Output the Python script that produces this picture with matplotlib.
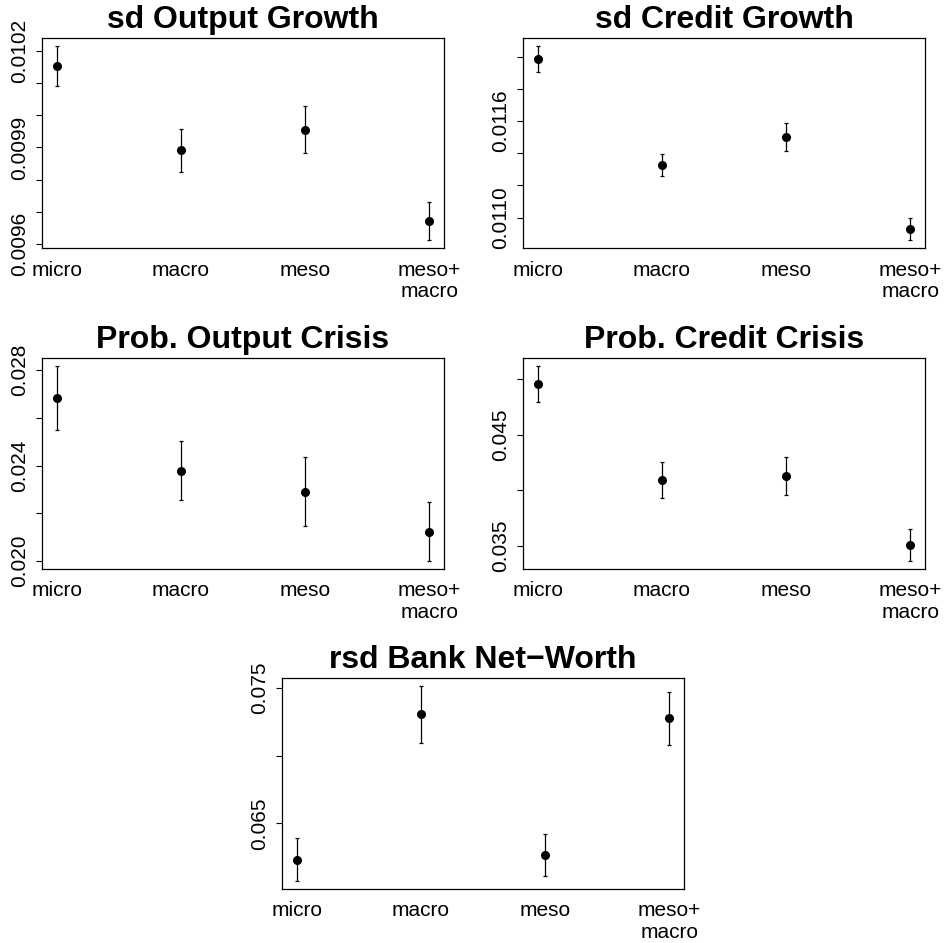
import numpy as np
import matplotlib.pyplot as plt

plt.rcParams['font.family'] = ['Liberation Sans', 'DejaVu Sans']

scenarios = ["micro", "macro", "meso", "meso+\nmacro"]

# mean and half-width of the interval for each scenario
sd_output_mean = [0.010154, 0.009891, 0.009956, 0.009671]
sd_output_err = [0.000063, 0.000067, 0.000072, 0.000060]

sd_credit_mean = [0.011988, 0.011326, 0.011499, 0.010930]
sd_credit_err = [0.000080, 0.000070, 0.000087, 0.000070]

prob_output_mean = [0.02684, 0.02379, 0.02291, 0.02123]
prob_output_err = [0.00134, 0.00123, 0.00143, 0.00124]

prob_credit_mean = [0.04952, 0.04095, 0.04128, 0.03509]
prob_credit_err = [0.00164, 0.00160, 0.00173, 0.00143]

rsd_bank_mean = [0.06232, 0.07305, 0.06266, 0.07276]
rsd_bank_err = [0.00160, 0.00212, 0.00155, 0.00197]

# y ticks and which of them get a label
sd_output_ticks = [0.0096, 0.0097, 0.0098, 0.0099, 0.0100, 0.0101, 0.0102]
sd_output_labels = ["0.0096", "", "", "0.0099", "", "", "0.0102"]
sd_credit_ticks = [0.0110, 0.0112, 0.0114, 0.0116, 0.0118, 0.0120]
sd_credit_labels = ["0.0110", "", "", "0.0116", "", ""]
prob_output_ticks = [0.020, 0.022, 0.024, 0.026, 0.028]
prob_output_labels = ["0.020", "", "0.024", "", "0.028"]
prob_credit_ticks = [0.035, 0.040, 0.045, 0.050]
prob_credit_labels = ["0.035", "", "0.045", ""]
rsd_bank_ticks = [0.065, 0.070, 0.075]
rsd_bank_labels = ["0.065", "", "0.075"]

W, H = 946, 943
fig = plt.figure(figsize=(W / 100, H / 100), dpi=100)


def add_panel(px_left, px_top, px_right, px_bottom):
    return fig.add_axes([px_left / W, 1 - px_bottom / H,
                         (px_right - px_left) / W, (px_bottom - px_top) / H])


def ci_plot(ax, title, mean, err, ticks, labels):
    mean = np.array(mean)
    err = np.array(err)
    x = np.arange(1, len(mean) + 1)
    ax.errorbar(x, mean, yerr=err, fmt='o', color='black', ms=5.5,
                elinewidth=0.9, capsize=1.3, capthick=0.9)
    lo, hi = (mean - err).min(), (mean + err).max()
    pad = (hi - lo) * 0.04
    ax.set_ylim(lo - pad, hi + pad)
    ax.set_xlim(1 - 0.12, len(mean) + 0.12)
    ax.set_xticks(x)
    ax.set_xticklabels(scenarios, fontsize=15, linespacing=1.15)
    ax.tick_params(axis='x', length=0, pad=9)
    ax.set_yticks(ticks)
    ax.set_yticklabels(labels, fontsize=15, rotation=90, va='center')
    ax.tick_params(axis='y', length=4, width=0.8, pad=5)
    for s in ax.spines.values():
        s.set_linewidth(0.9)
    ax.set_title(title, fontsize=23, fontweight='bold', pad=7)


ax1 = add_panel(42, 38, 444, 248)
ci_plot(ax1, "sd Output Growth", sd_output_mean, sd_output_err,
        sd_output_ticks, sd_output_labels)

ax2 = add_panel(523, 38, 925, 248)
ci_plot(ax2, "sd Credit Growth", sd_credit_mean, sd_credit_err,
        sd_credit_ticks, sd_credit_labels)

ax3 = add_panel(42, 358, 444, 569)
ci_plot(ax3, "Prob. Output Crisis", prob_output_mean, prob_output_err,
        prob_output_ticks, prob_output_labels)

ax4 = add_panel(523, 358, 925, 569)
ci_plot(ax4, "Prob. Credit Crisis", prob_credit_mean, prob_credit_err,
        prob_credit_ticks, prob_credit_labels)

ax5 = add_panel(282, 678, 684, 889)
ci_plot(ax5, "rsd Bank Net\u2212Worth", rsd_bank_mean, rsd_bank_err,
        rsd_bank_ticks, rsd_bank_labels)

fig.savefig("out.png", dpi=100)
